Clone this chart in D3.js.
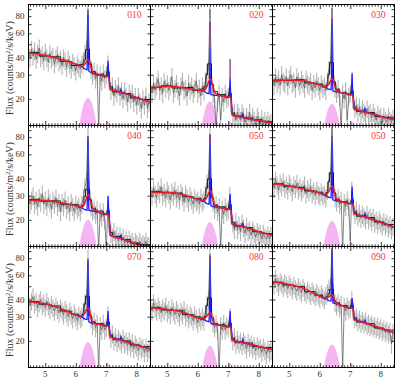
<!DOCTYPE html>
<html>
<head>
<meta charset="utf-8">
<script src="https://cdn.jsdelivr.net/npm/d3@7"></script>
<style>
  body { margin: 0; background: #fff; }
  svg { display: block; }
</style>
</head>
<body>
<script>
// panel labels (as printed on the figure)
const panelLabels = ["010", "020", "030", "040", "050", "050", "070", "080", "090"];

// ticks
const xMajorTicks = [5, 6, 7, 8];
const yTicks = [20, 30, 40, 50, 60, 70, 80, 90];
const yTickLabels = [20, 30, 40, 60, 80];

// observed spectrum channels (keV)
const grayE = [4.45,4.5,4.55,4.6,4.65,4.7,4.75,4.8,4.85,4.9,
  4.95,5,5.05,5.1,5.15,5.2,5.25,5.3,5.35,5.4,
  5.45,5.5,5.55,5.6,5.65,5.7,5.75,5.8,5.85,5.9,
  5.95,6,6.05,6.1,6.15,6.2,6.25,6.3,6.35,6.4,
  6.45,6.5,6.55,6.6,6.65,6.7,6.75,6.8,6.85,6.9,
  6.95,7,7.05,7.1,7.15,7.2,7.25,7.3,7.35,7.4,
  7.45,7.5,7.55,7.6,7.65,7.7,7.75,7.8,7.85,7.9,
  7.95,8,8.05,8.1,8.15,8.2,8.25,8.3,8.35,8.4,
  8.45];

const gray010 = [44,40,46,41,45,39,43,47,40,42, 38,44,40,37,43,39,41,36,40,42, 37,39,35,40,38,34,39,36,33,37,
  35,32,36,34,33,36,38,43,46,85, 41,33,30,32,28,31,12,30,27,31, 28,30,36,27,23,25,21,24,22,25,
  21,23,20,23,21,19,22,20,22,19, 21,18,21,19,17,20,18,21,17,19, 18];
const gray020 = [24,22,26,23,25,28,23,25,22,27, 24,26,23,25,29,22,24,26,23,21, 25,27,23,24,21,26,23,25,22,24,
  27,22,24,21,25,23,27,31,33,90, 30,22,20,12,19,22,14,21,19,22, 20,21,25,19,15,16,14,16,15,14,
  16,15,13.5,15,14,16,13.5,15,14,13, 15,14,13,14.5,13,14,13,14,13,13.5, 13];
const gray030 = [27,25,29,26,28,25,30,27,26,29, 25,28,30,26,27,24,29,27,25,28, 26,24,28,26,25,27,23,26,24,27,
  25,23,26,24,25,23,27,33,36,92, 31,24,22,24,21,12,22,20,23,14, 21,22,26,20,17,18,16,17.5,15.5,17,
  16,15,17,15.5,16,14.5,16,15,14,15.5, 14.5,15,13.5,15,14,13.5,15,14,13.5,14.5, 14];
const gray040 = [29,26,28,30,26,28,25,29,27,31, 26,28,25,29,27,24,28,26,29,25, 27,23,27,25,28,24,26,23,27,25,
  23,26,24,25,23,26,29,35,38,82, 34,25,23,24,22,24,12,23,21,23, 20,12,25,20,16,15,16.5,14.5,15.5,14,
  15.5,14,15,13.5,14.5,13.5,14.5,13.5,14,13, 14,13.5,13,14,13,13.5,13,14,13,13, 13];
const gray050 = [32,30,34,31,29,33,31,35,30,32, 29,33,31,28,32,30,33,29,31,28, 32,30,27,31,29,27,30,28,26,29,
  27,28,26,29,27,28,31,37,40,84, 35,27,24,26,23,25,12,24,22,25, 23,24,30,22,19,17,19.5,17,18.5,16.5,
  19,17.5,16,18,16.5,17,15.5,17,16,15, 16.5,15.5,16,14.5,16,15,14.5,15.5,14.5,15.5, 15];
const gray060 = [37,34,39,36,33,37,35,38,34,36, 33,37,35,32,36,34,37,33,35,32, 34,36,31,34,32,35,31,33,30,33,
  31,30,32,30,31,29,33,39,42,95, 38,29,27,29,26,28,12,27,25,28, 25,14,33,25,22,23.5,21,22.5,20.5,22,
  21,20,22,20,21,19.5,21,19,20,18.5, 20,19,18,19.5,18,19,17.5,18.5,17,18, 17.5];
const gray070 = [40,36,39,42,37,39,35,38,40,36, 38,35,39,36,34,37,35,33,36,34, 32,35,33,31,34,32,30,33,31,29,
  32,30,28,31,29,30,33,38,41,80, 36,29,26,28,25,27,12,26,24,27, 24,25,31,24,21,22.5,20,21.5,19.5,21,
  20,19,21,19,20,18.5,20,18,19.5,17.5, 19,18,17,18.5,17.5,18,16.5,18,16.5,17.5, 16.5];
const gray080 = [36,33,38,35,33,36,34,32,35,33, 36,32,34,31,35,33,31,34,32,30, 33,31,34,30,32,29,31,30,28,31,
  29,27,30,28,30,28,32,37,40,86, 34,27,25,27,24,12,26,24,27,24, 26,25,30,23,20,21.5,19,20.5,19,20,
  18.5,20,19,17.5,19.5,18,19,17.5,18.5,17, 18.5,17.5,18,16.5,18,17,16,17.5,16.5,17, 16.5];
const gray090 = [55,51,57,53,50,54,52,49,53,51, 48,52,50,47,51,48,46,50,47,45, 49,46,44,47,45,43,46,44,42,45,
  43,41,44,42,40,43,45,48,50,94, 45,38,36,38,35,37,12,36,33,36, 34,35,40,33,29,30,27.5,29,27,28.5,
  26.5,28,26,27,25.5,26.5,25,26,24.5,25.5, 24,25,23.5,24.5,23,24,22.5,23.5,19,23, 22.5];

// binned data (black), step edges in keV
const blackE = [4.45, 4.8, 5.15, 5.5, 5.85, 6.1, 6.2, 6.27, 6.32, 6.45, 6.52, 6.65, 6.9, 7.02, 7.1, 7.2, 7.5, 7.8, 8.1, 8.45];
const black010 = [43.5, 41, 40.5, 37.5, 35, 35.5, 35.8, 38.5, 45.7, 36, 31.5, 30.2, 29.2, 31.5, 24.5, 22.5, 21.9, 20.3, 19.8, 19.8];
const black020 = [24.3, 24.9, 24, 24.2, 23, 23.6, 24.5, 30, 36, 25.5, 22.6, 21.5, 20.6, 22, 15.8, 15, 14.5, 14.1, 13.7, 13.7];
const black030 = [27.4, 27.2, 27.6, 26.1, 25.6, 24.5, 25.2, 30, 36.8, 26.5, 23.3, 22.1, 21.4, 22.8, 17.2, 16.2, 15.9, 14.9, 14.7, 14.7];
const black040 = [28.2, 27.4, 27.5, 26, 25.8, 24.7, 25.6, 29.5, 33.4, 28, 24.3, 23.2, 21.8, 23.5, 16.2, 15.1, 14.4, 13.5, 13.2, 13.2];
const black050 = [32.2, 31.5, 31.3, 29.5, 28.7, 27.5, 28.6, 34, 39.8, 29, 25.6, 24.9, 23.9, 25.8, 19.2, 18, 17.6, 16.4, 15.9, 15.9];
const black060 = [36.6, 35.1, 34.5, 32.5, 31.8, 30.5, 31.6, 38, 44, 31.5, 28, 27.1, 26.2, 28, 22.8, 21.3, 20.8, 19.3, 18.5, 18.5];
const black070 = [38.6, 37, 35.9, 33, 31.3, 30.1, 31.2, 37, 42.3, 30.5, 27.4, 26.7, 25.7, 27.5, 22, 20.6, 20, 18.7, 18.2, 18.2];
const black080 = [34.9, 33.6, 33.4, 31.1, 29.9, 28.8, 30, 36, 41.1, 29.5, 26.7, 26.2, 25.3, 27, 20.8, 19.6, 19.3, 18.2, 17.9, 17.9];
const black090 = [53.5, 51, 49.8, 45.7, 43, 40.8, 41.8, 44, 47.3, 39, 37.8, 36.2, 34.8, 36.5, 29.3, 27.4, 26.7, 24.8, 24, 24];

// broad-line model (red)
const redE = [4.45, 5.0, 5.5, 6.0, 6.2, 6.3, 6.36, 6.42, 6.48, 6.56, 6.65, 6.8, 7.0, 7.08, 7.13, 7.5, 8.0, 8.45];
const red010 = [43.3, 41.5, 38.8, 35.8, 34.6, 35.8, 37.8, 38.5, 35, 31.2, 30, 29.7, 29.3, 28.5, 23.6, 22.3, 20.4, 19.0];
const red020 = [23.7, 24.7, 24.2, 23.2, 23.1, 24.5, 26.8, 28, 25.5, 22.2, 21.4, 21.0, 20.7, 20.3, 15.2, 14.6, 13.9, 13.4];
const red030 = [26.9, 27.5, 27.0, 25.2, 24.5, 25.6, 27.2, 28.1, 25.5, 23, 22.4, 22.0, 21.5, 21.1, 16.8, 16.0, 14.9, 14.1];
const red040 = [27.8, 27.7, 26.7, 25.4, 24.8, 26.5, 29.3, 30.6, 27.5, 24.2, 23.5, 22.5, 22.0, 21.6, 15.4, 14.6, 13.3, 12.7];
const red050 = [31.8, 31.8, 30.6, 28.3, 27.7, 29.2, 31.6, 32.7, 29.5, 25.5, 24.7, 24.4, 24.0, 23.6, 18.6, 17.8, 16.4, 15.4];
const red060 = [36.6, 35.3, 33.5, 31.4, 30.6, 32.2, 34.5, 35.3, 31.5, 27.9, 27.2, 26.8, 26.3, 25.9, 22.2, 21.0, 19.2, 17.7];
const red070 = [38.5, 37.2, 34.5, 30.8, 30.3, 31.9, 34.0, 34.8, 30.5, 27.3, 26.7, 26.3, 25.8, 25.3, 21.4, 20.2, 18.6, 17.5];
const red080 = [34.8, 33.8, 32.5, 29.4, 29.0, 30.4, 31.6, 32.0, 29, 26.6, 26.1, 25.8, 25.4, 25.0, 20.2, 19.4, 18.2, 17.3];
const red090 = [53.8, 51.4, 48.0, 42.3, 41.0, 42.0, 43.0, 43.4, 40, 37.4, 36.8, 35.6, 34.8, 34.2, 28.6, 27.0, 24.7, 22.9];

// narrow-line model (blue)
const blueE = [6.0, 6.2, 6.3, 6.37, 6.39, 6.40, 6.41, 6.43, 6.5, 6.6, 6.8, 7.0, 7.04, 7.06, 7.08, 7.1, 7.13, 7.3, 7.45, 7.48, 7.51, 7.7, 8.0, 8.45];
const blue010 = [35.8, 34.3, 33, 32.6, 45, 82, 45, 31.8, 31, 30.4, 29.7, 29.3, 29.5, 37.5, 29.5, 28.5, 23.6, 23.0, 22.4, 23.5, 22.3, 21.6, 20.4, 19.0];
const blue020 = [23.2, 22.8, 22.0, 21.8, 30, 48, 30, 21.5, 21.3, 21.2, 21.0, 20.7, 21, 28, 21, 20.3, 15.2, 14.9, 14.7, 15.4, 14.6, 14.3, 13.9, 13.4];
const blue030 = [25.2, 24.2, 23.5, 23.3, 33, 72, 33, 22.8, 22.6, 22.5, 22.0, 21.5, 22, 30.5, 22, 21.1, 16.8, 16.4, 16.1, 17, 16, 15.6, 14.9, 14.1];
const blue040 = [25.4, 24.5, 23.7, 23.5, 35, 75, 35, 23.5, 23.3, 23.2, 22.5, 22.0, 22.3, 30, 22.3, 21.6, 15.4, 15.0, 14.7, 15.6, 14.6, 14.0, 13.3, 12.9];
const blue050 = [28.3, 27.3, 26.3, 26, 38, 72, 38, 25.3, 25.0, 24.8, 24.4, 24.0, 24.3, 31, 24.3, 23.6, 18.6, 18.2, 17.9, 18.8, 17.8, 17.2, 16.4, 15.4];
const blue060 = [31.4, 30.2, 29.2, 29, 42, 75, 42, 28, 27.6, 27.4, 26.8, 26.3, 26.6, 35, 26.6, 25.9, 22.2, 21.6, 21.1, 22.2, 21, 20.3, 19.2, 17.7];
const blue070 = [30.8, 29.9, 28.8, 28.6, 41, 74, 41, 27.5, 27.1, 26.9, 26.3, 25.8, 26.2, 33, 26.2, 25.3, 21.4, 20.8, 20.3, 21.4, 20.2, 19.6, 18.6, 17.5];
const blue080 = [29.4, 28.6, 27.8, 27.6, 40, 76, 40, 26.8, 26.5, 26.3, 25.8, 25.4, 25.7, 33, 25.7, 25.0, 20.2, 19.8, 19.5, 20.5, 19.4, 18.9, 18.2, 17.3];
const blue090 = [42.3, 40.5, 39.3, 39, 55, 90, 55, 37.8, 37.5, 37.1, 35.6, 34.8, 35.2, 41, 35.2, 34.2, 28.6, 27.8, 27.1, 28.3, 27, 26, 24.7, 22.9];

// tops of the line spikes (purple), Fe Ka and Fe Kb
const purpleKa = [90, 73, 77, 81, 84, 82, 78, 83, 95];
const purpleKb = [38, 39, 31, 30, 31, 35, 33, 33, 41];

// line profiles (pink)
const pinkE = [6.08, 6.15, 6.22, 6.29, 6.36, 6.40, 6.44, 6.51, 6.58, 6.65, 6.72];
const pink010 = [11.5, 14.3, 17.0, 19.0, 20.1, 20.3, 20.1, 19.0, 17.0, 14.3, 11.5];
const pink020 = [10.8, 13.5, 16.0, 18.0, 19.0, 19.2, 19.0, 18.0, 16.0, 13.5, 10.8];
const pink030 = [10.4, 13.0, 15.4, 17.2, 18.2, 18.4, 18.2, 17.2, 15.4, 13.0, 10.4];
const pink040 = [11.4, 14.2, 16.8, 18.8, 19.9, 20.1, 19.9, 18.8, 16.8, 14.2, 11.4];
const pink050 = [10.9, 13.6, 16.1, 18.0, 19.1, 19.3, 19.1, 18.0, 16.1, 13.6, 10.9];
const pink060 = [11.1, 13.9, 16.4, 18.4, 19.5, 19.7, 19.5, 18.4, 16.4, 13.9, 11.1];
const pink070 = [11.1, 13.8, 16.4, 18.3, 19.4, 19.6, 19.4, 18.3, 16.4, 13.8, 11.1];
const pink080 = [10.5, 13.0, 15.4, 17.3, 18.3, 18.5, 18.3, 17.3, 15.4, 13.0, 10.5];
const pink090 = [10.6, 13.3, 15.7, 17.6, 18.6, 18.8, 18.6, 17.6, 15.7, 13.3, 10.6];
const pinkKbE = [6.95, 7.0, 7.05, 7.1, 7.15];
const pinkKb = [12.6, 13.3, 13.7, 13.3, 12.6];

const grays = [gray010, gray020, gray030, gray040, gray050, gray060, gray070, gray080, gray090];
const blacks = [black010, black020, black030, black040, black050, black060, black070, black080, black090];
const reds = [red010, red020, red030, red040, red050, red060, red070, red080, red090];
const blues = [blue010, blue020, blue030, blue040, blue050, blue060, blue070, blue080, blue090];
const pinks = [pink010, pink020, pink030, pink040, pink050, pink060, pink070, pink080, pink090];

// layout
const W = 400, H = 384;
const marginLeft = 28.5, marginTop = 4.5;
const pw = 122, ph = 121;
const errFrac = 0.15;
const font = "'Liberation Serif', 'DejaVu Serif', serif";

const svg = d3.select("body").append("svg").attr("width", W).attr("height", H);

const x = d3.scaleLinear().domain([4.45, 8.45]).range([0, pw]);
const y = d3.scaleLog().domain([12.8, 97.3]).range([ph, 0]);

const zip = (xs, ys) => xs.map((e, i) => [e, ys[i]]);
const line = d3.line().x(d => x(d[0])).y(d => y(d[1]));

const xMinor = d3.range(4.5, 8.45, 0.1).filter(v => Math.abs(v - Math.round(v)) > 0.01);

panelLabels.forEach((label, i) => {
  const col = i % 3, row = Math.floor(i / 3);
  const g = svg.append("g").attr("transform", `translate(${marginLeft + col * pw},${marginTop + row * ph})`);

  g.append("clipPath").attr("id", "clip" + i)
    .append("rect").attr("width", pw).attr("height", ph);
  const plot = g.append("g").attr("clip-path", `url(#clip${i})`);

  // pink line profiles
  const area = d3.area().curve(d3.curveMonotoneX)
    .x(d => x(d[0])).y0(ph).y1(d => y(d[1]));
  plot.append("path").datum(zip(pinkE, pinks[i])).attr("d", area).attr("fill", "#f5b4f2");
  plot.append("path").datum(zip(pinkKbE, pinkKb)).attr("d", area).attr("fill", "#f5b4f2");

  // gray spectrum with error bars
  const gd = zip(grayE, grays[i]);
  plot.selectAll("line.err").data(gd).join("line")
    .attr("class", "err")
    .attr("x1", d => x(d[0])).attr("x2", d => x(d[0]))
    .attr("y1", d => y(d[1] * (1 + errFrac)))
    .attr("y2", d => y(d[1] * (1 - errFrac)))
    .attr("stroke", "#b4b4b4").attr("stroke-width", 1.1);
  plot.append("path").datum(gd).attr("d", line)
    .attr("fill", "none").attr("stroke", "#5e5e5e").attr("stroke-width", 0.75);

  // binned data
  plot.append("path").datum(zip(blackE, blacks[i]))
    .attr("d", line.curve(d3.curveStepAfter))
    .attr("fill", "none").attr("stroke", "#111").attr("stroke-width", 0.9);
  line.curve(d3.curveLinear);

  // models
  const bd = zip(blueE, blues[i]);
  plot.append("path").datum(bd).attr("d", line)
    .attr("fill", "none").attr("stroke", "#1c1cff").attr("stroke-width", 1.3);
  plot.append("path").datum(zip(redE, reds[i]))
    .attr("d", line.curve(d3.curveMonotoneX))
    .attr("fill", "none").attr("stroke", "#ea1c24").attr("stroke-width", 1.5);
  line.curve(d3.curveLinear);

  // spike tops
  const kaPeak = blues[i][blueE.indexOf(6.40)];
  const kbPeak = blues[i][blueE.indexOf(7.06)];
  plot.append("line")
    .attr("x1", x(6.40)).attr("x2", x(6.40))
    .attr("y1", y(kaPeak)).attr("y2", y(purpleKa[i]))
    .attr("stroke", "#8a2a93").attr("stroke-width", 1.4);
  plot.append("line")
    .attr("x1", x(7.06)).attr("x2", x(7.06))
    .attr("y1", y(kbPeak)).attr("y2", y(purpleKb[i]))
    .attr("stroke", "#8a2a93").attr("stroke-width", 1.3);

  // inward ticks on four sides
  const tick = (axis, tx, ty) => g.append("g")
    .attr("transform", `translate(${tx},${ty})`)
    .call(axis)
    .call(a => a.select(".domain").remove())
    .call(a => a.selectAll("line").attr("stroke", "#000").attr("stroke-width", 0.8));

  tick(d3.axisBottom(x).tickValues(xMinor).tickSize(-2.2).tickFormat(""), 0, ph);
  tick(d3.axisBottom(x).tickValues(xMajorTicks).tickSize(-4.5).tickFormat(""), 0, ph);
  tick(d3.axisTop(x).tickValues(xMinor).tickSize(-2.2).tickFormat(""), 0, 0);
  tick(d3.axisTop(x).tickValues(xMajorTicks).tickSize(-4.5).tickFormat(""), 0, 0);
  tick(d3.axisLeft(y).tickValues(yTicks).tickSize(-3).tickFormat(""), 0, 0);
  tick(d3.axisRight(y).tickValues(yTicks).tickSize(-3).tickFormat(""), pw, 0);

  g.append("rect").attr("width", pw).attr("height", ph)
    .attr("fill", "none").attr("stroke", "#000").attr("stroke-width", 1);

  // panel label
  g.append("text")
    .attr("x", pw - 9).attr("y", 13)
    .attr("text-anchor", "end")
    .attr("fill", "#f0393c")
    .style("font-family", font).style("font-size", "9.5px")
    .text(label);

  if (col === 0) {
    g.selectAll("text.ylab").data(yTickLabels).join("text")
      .attr("class", "ylab")
      .attr("x", -4).attr("y", d => y(d) + 3)
      .attr("text-anchor", "end")
      .attr("fill", "#333")
      .style("font-family", font).style("font-size", "9px")
      .text(d => d);

    const t = g.append("text")
      .attr("transform", `translate(-15.5,${ph / 2 + 3}) rotate(-90)`)
      .attr("text-anchor", "middle")
      .attr("fill", "#333")
      .style("font-family", font).style("font-size", "10px");
    t.append("tspan").text("Flux (counts/m");
    t.append("tspan").attr("dy", -3.5).style("font-size", "7px").text("2");
    t.append("tspan").attr("dy", 3.5).text("/s/keV)");
  }

  if (row === 2) {
    g.selectAll("text.xlab").data(xMajorTicks).join("text")
      .attr("class", "xlab")
      .attr("x", d => x(d)).attr("y", ph + 9.5)
      .attr("text-anchor", "middle")
      .attr("fill", "#333")
      .style("font-family", font).style("font-size", "9px")
      .text(d => d);
  }
});
</script>
</body>
</html>
